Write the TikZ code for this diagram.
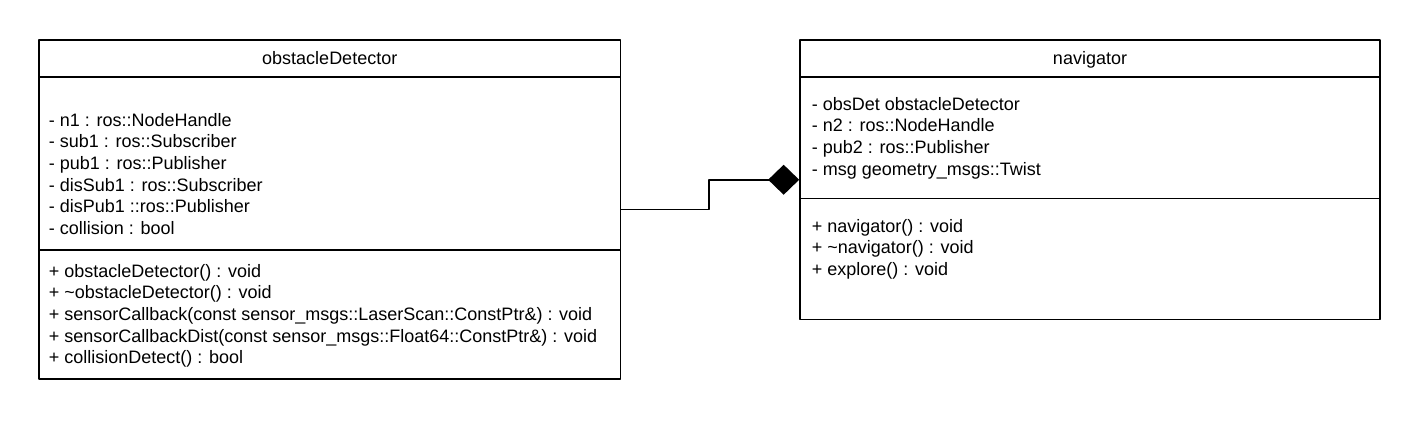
\documentclass[tikz,border=0pt]{standalone}
\usepackage{fontspec}
\setmainfont{Liberation Sans}
\usetikzlibrary{arrows.meta}

\begin{document}
\begin{tikzpicture}[x=1pt, y=-1pt, line join=round, line width=1.7pt, font=\fontsize{18}{21.7}\selectfont]
	\tikzset{classbox/.style={draw, rectangle, inner sep=0pt},
		member/.style={anchor=base west, inner sep=0pt},
		title/.style={anchor=base, inner sep=0pt},
		composition/.style={{Diamond[length=31pt,width=30pt,fill=black]}-}}
	\useasboundingbox (0,0) rectangle (1420,420);
	% the two classes
	\node[classbox, minimum width=581.5pt, minimum height=339pt] (obsDet) at (329.75,209.5) {};
	\node[classbox, minimum width=580pt, minimum height=279.5pt] (navig) at (1090,179.75) {};
	\foreach \c/\a/\m in {obsDet/37.7/210.7, navig/37.7/159.3}
	{
		\draw ([yshift=-\a pt]\c.north west) -- ([yshift=-\a pt]\c.north east);
		\draw ([yshift=-\m pt]\c.north west) -- ([yshift=-\m pt]\c.north east);
	}
	\node[title] (obsDetT) at (329.75,64) {obstacleDetector};
	\node[title] (navigT) at (1090,64) {navigator};
	% members of obstacleDetector
	\foreach \t [count=\i from 0] in {- n1 : ros::NodeHandle, - sub1 : ros::Subscriber,
		- pub1 : ros::Publisher, - disSub1 : ros::Subscriber, - disPub1 ::ros::Publisher,
		- collision : bool}
	\node[member] (obsDetA\i) at (48,{126+21.7*\i}) {\t};
	\foreach \t [count=\i from 0] in {+ obstacleDetector() : void, + \textasciitilde obstacleDetector() : void,
		+ sensorCallback(const sensor\_msgs::LaserScan::ConstPtr\&) : void,
		+ sensorCallbackDist(const sensor\_msgs::Float64::ConstPtr\&) : void,
		+ collisionDetect() : bool}
	\node[member] (obsDetM\i) at (48,{277+21.7*\i}) {\t};
	% members of navigator
	\foreach \t [count=\i from 0] in {- obsDet obstacleDetector, - n2 : ros::NodeHandle,
		- pub2 : ros::Publisher, - msg geometry\_msgs::Twist}
	\node[member] (navigA\i) at (811,{110+21.7*\i}) {\t};
	\foreach \t [count=\i from 0] in {+ navigator() : void, + \textasciitilde navigator() : void,
		+ explore() : void}
	\node[member] (navigM\i) at (811,{232+21.7*\i}) {\t};
	% composition
	\draw[composition] (navig.west) -- ++(-90,0) |- (obsDet.east);
\end{tikzpicture}
\end{document}
